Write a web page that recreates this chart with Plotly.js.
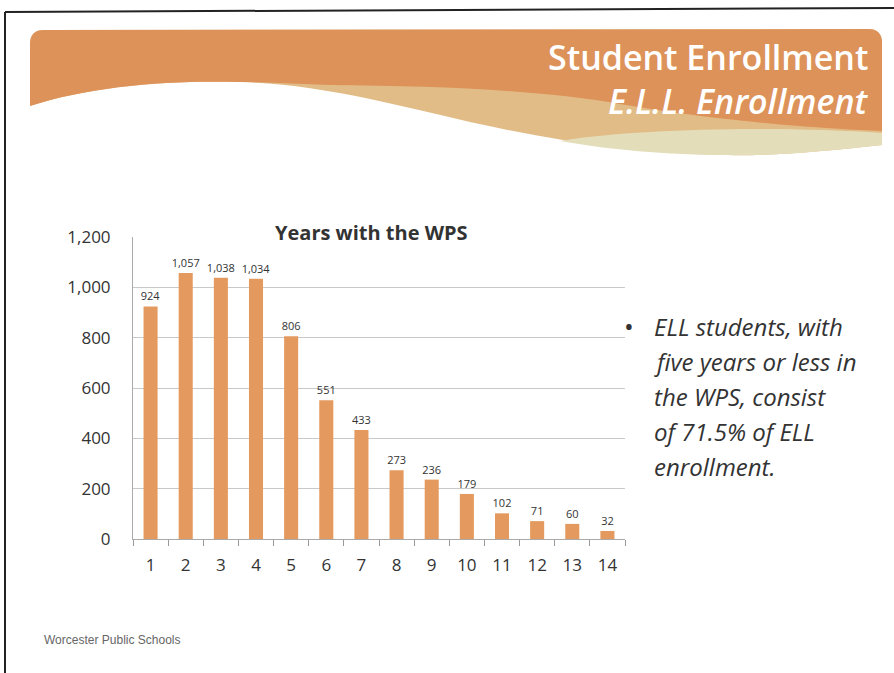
<!DOCTYPE html>
<html>
<head>
<meta charset="utf-8">
<script src="https://cdn.plot.ly/plotly-3.0.1.min.js"></script>
<style>html,body{margin:0;padding:0;background:#fff;}#chart{width:894px;height:673px;}</style>
</head>
<body>
<div id="chart"></div>
<script>
// ---- data ----
const years = ['1','2','3','4','5','6','7','8','9','10','11','12','13','14'];
const students = [924, 1057, 1038, 1034, 806, 551, 433, 273, 236, 179, 102, 71, 60, 32];
const yTickVals = [0, 200, 400, 600, 800, 1000, 1200];
const chartTitle = 'Years with the WPS';
const headerLine1 = 'Student Enrollment';
const headerLine2 = 'E.L.L. Enrollment';
const bulletLines = ['ELL students, with', 'five years or less in', 'the WPS, consist', 'of 71.5% of ELL', 'enrollment.'];
const footer = 'Worcester Public Schools';

// ---- pixel -> paper helpers (plot area geometry) ----
const W = 894, H = 673;
const M = {l: 133, r: 269, t: 237, b: 134};
const PW = W - M.l - M.r, PH = H - M.t - M.b;
const px = x => (x - M.l) / PW;
const py = y => (H - M.b - y) / PH;
const pt = (x, y) => px(x).toFixed(4) + ',' + py(y).toFixed(4);

function path(cmds) {
  return cmds.map(c => {
    const l = c[0]; const pts = [];
    for (let i = 1; i < c.length; i += 2) pts.push(pt(c[i], c[i+1]));
    return l + (pts.length ? ' ' + pts.join(' ') : '');
  }).join(' ');
}

const bannerTop = [['M',30,44],['Q',30,30,44,30],['L',868,29],['Q',882,29,882,43]];
const whiteEdge = [['C',820,152,770,156,720,155],['C',640,153,560,142,470,122],['C',400,106,320,84,240,82],['C',170,80,90,86,30,106],['Z']];
const shapeTan = path(bannerTop.concat([['L',882,145]], whiteEdge));
const shapeOrange = path(bannerTop.concat([['L',882,131],['C',800,128,700,118,620,104],['C',540,90,440,86,330,85],['C',300,84,270,82,240,82],['C',170,80,90,86,30,106],['Z']]));
const shapePale = path([['M',560,141],['C',640,128,780,126,882,133],['L',882,145],['C',820,152,770,156,720,155],['C',650,154,600,148,560,141],['Z']]);

const trace = {
  type: 'bar',
  x: years,
  y: students,
  marker: {color: '#E49A5E'},
  text: students.map(v => v.toLocaleString('en-US')),
  textposition: 'outside',
  constraintext: 'none',
  textfont: {family: 'Open Sans, sans-serif', size: 11, color: '#333'},
  cliponaxis: false,
  hoverinfo: 'x+y'
};

const textFont = 'Open Sans, Noto Sans, sans-serif';
const annotations = [
  {text: '<b>' + chartTitle + '</b>', xref: 'paper', yref: 'paper', x: px(371), y: py(232), xanchor: 'center', yanchor: 'middle', showarrow: false, font: {family: textFont, size: 20, color: '#333'}},
  {text: headerLine1, xref: 'paper', yref: 'paper', x: px(870), y: py(57), xanchor: 'right', yanchor: 'middle', showarrow: false, font: {family: textFont, size: 34, weight: 600, color: '#ffffff'}},
  {text: '<i>' + headerLine2 + '</i>', xref: 'paper', yref: 'paper', x: px(870), y: py(101), xanchor: 'right', yanchor: 'middle', showarrow: false, font: {family: textFont, size: 34, weight: 600, color: '#ffffff'}},
  {text: '•', xref: 'paper', yref: 'paper', x: px(629), y: py(326), xanchor: 'center', yanchor: 'middle', showarrow: false, font: {family: textFont, size: 26, color: '#333'}},
  {text: footer, xref: 'paper', yref: 'paper', x: px(42), y: py(640), xanchor: 'left', yanchor: 'middle', showarrow: false, font: {family: 'Liberation Sans, Arial, sans-serif', size: 12, color: '#666'}}
];
bulletLines.forEach((t, i) => {
  annotations.push({text: '<i>' + t + '</i>', xref: 'paper', yref: 'paper', x: px(652), y: py(326 + 35 * i), xanchor: 'left', yanchor: 'middle', showarrow: false, font: {family: textFont, size: 24, color: '#333'}});
});

const layout = {
  width: W, height: H,
  margin: M,
  paper_bgcolor: '#ffffff',
  plot_bgcolor: '#ffffff',
  showlegend: false,
  bargap: 0.6,
  font: {family: textFont, color: '#333'},
  xaxis: {
    type: 'category',
    tickson: 'boundaries',
    ticks: 'outside', ticklen: 6, tickcolor: '#999',
    showline: true, linecolor: '#aaa', linewidth: 1,
    showgrid: false,
    tickfont: {family: textFont, size: 17, color: '#333'},
    ticklabelstandoff: 11,
    fixedrange: true
  },
  yaxis: {
    range: [0, 1200],
    tickvals: yTickVals,
    tickformat: ',',
    showgrid: true, gridcolor: '#c9c9c9', gridwidth: 1,
    showline: true, linecolor: '#aaa', linewidth: 1,
    zeroline: false,
    tickfont: {family: textFont, size: 17, color: '#333'},
    ticklabelstandoff: 18,
    fixedrange: true
  },
  shapes: [
    {type: 'path', xref: 'paper', yref: 'paper', path: shapeTan, fillcolor: '#E2BC86', line: {width: 0}, layer: 'below'},
    {type: 'path', xref: 'paper', yref: 'paper', path: shapeOrange, fillcolor: '#DD925A', line: {width: 0}, layer: 'below'},
    {type: 'path', xref: 'paper', yref: 'paper', path: shapePale, fillcolor: '#E4DDBA', line: {width: 0}, layer: 'below'},
    {type: 'line', xref: 'paper', yref: 'paper', x0: px(5), y0: py(12), x1: px(5), y1: py(673), line: {color: '#222', width: 2}},
    {type: 'line', xref: 'paper', yref: 'paper', x0: px(5), y0: py(12), x1: px(894), y1: py(8), line: {color: '#222', width: 2}}
  ],
  annotations: annotations
};

Plotly.newPlot('chart', [trace], layout, {displayModeBar: false, staticPlot: true});
</script>
</body>
</html>
